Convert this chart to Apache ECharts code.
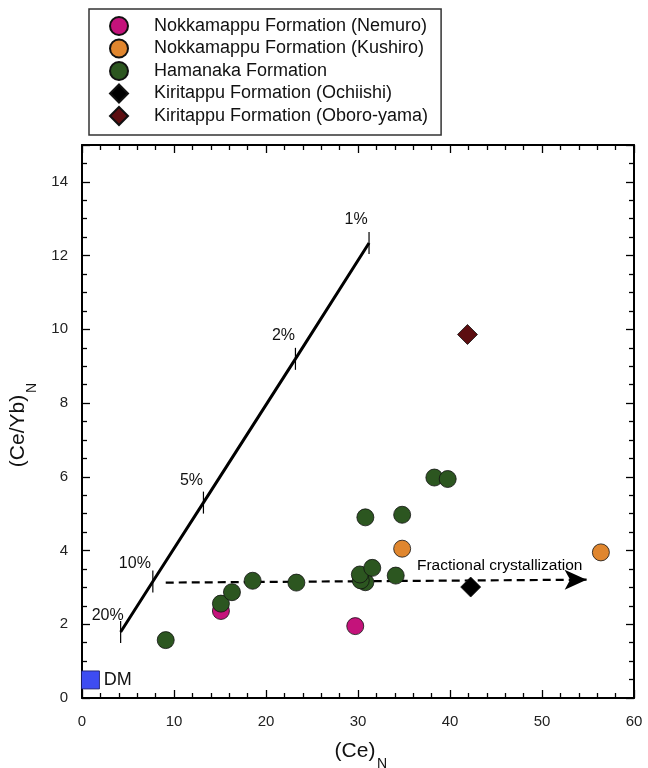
<!DOCTYPE html>
<html>
<head>
<meta charset="utf-8">
<script src="https://cdn.jsdelivr.net/npm/echarts@6/dist/echarts.min.js"></script>
<style>
html,body{margin:0;padding:0;background:#fff;}
#chart{width:648px;height:768px;}
</style>
</head>
<body>
<div id="chart"></div>
<script>
// ---- data ----
const seriesNames = [
  'Nokkamappu Formation (Nemuro)',
  'Nokkamappu Formation (Kushiro)',
  'Hamanaka Formation',
  'Kiritappu Formation (Ochiishi)',
  'Kiritappu Formation (Oboro-yama)'
];
const nemuro = [[15.1, 2.36], [29.7, 1.95]];
const kushiro = [[34.8, 4.05], [56.4, 3.95]];
const hamanaka = [
  [9.1, 1.57], [15.1, 2.56], [16.3, 2.87], [18.55, 3.18], [23.3, 3.13],
  [30.8, 3.14], [30.3, 3.19], [30.2, 3.35], [31.55, 3.53], [34.1, 3.32],
  [30.8, 4.9], [34.8, 4.97], [38.3, 5.98], [39.75, 5.94]
];
const ochiishi = [[42.25, 3.01]];
const oboro = [[41.9, 9.86]];
const dm = [[0.92, 0.49]];
const dmLabel = 'DM';
const meltPoints = [[4.2, 1.79], [7.7, 3.16], [13.2, 5.3], [23.2, 9.2], [31.2, 12.34]];
const meltLabels = ['20%', '10%', '5%', '2%', '1%'];
const fcStart = [9.1, 3.13];
const fcEnd = [54.85, 3.21];
const fcText = 'Fractional crystallization';
const fcTextPos = [45.4, 3.6];
const xTitle = ['(Ce)', 'N'];
const yTitle = ['(Ce/Yb)', 'N'];

// ---- styles ----
const FONT = 'Liberation Sans, Arial, Helvetica, sans-serif';
const colors = ['#C4137B', '#E0862E', '#2C5620', '#000000', '#5C0E10'];
const symbols = ['circle', 'circle', 'circle', 'diamond', 'diamond'];
const sizes = [17, 17, 17, 20, 20];
const datasets = [nemuro, kushiro, hamanaka, ochiishi, oboro];

const chart = echarts.init(document.getElementById('chart'), null, {renderer: 'canvas'});

const axisCommon = {
  min: 0,
  axisLine: {show: true, onZero: false, lineStyle: {color: '#000', width: 2}},
  axisTick: {show: true, inside: true, length: 8, lineStyle: {color: '#000', width: 1.3}},
  minorTick: {show: true, length: 5, lineStyle: {color: '#000', width: 1.3}},
  splitLine: {show: false},
  minorSplitLine: {show: false}
};

const scatterSeries = datasets.map((d, i) => ({
  name: seriesNames[i],
  type: 'scatter',
  data: d,
  symbol: symbols[i],
  symbolSize: sizes[i],
  itemStyle: {color: colors[i], borderColor: '#111', borderWidth: 0.8, opacity: 1},
  z: 5,
  emphasis: {disabled: true}
}));

const meltOffsets = [[-13, -16], [-18, -18], [-12, -22], [-12, -23], [-13, -23]];

const option = {
  animation: false,
  backgroundColor: '#fff',
  textStyle: {fontFamily: FONT},
  grid: {left: 82, right: 14, top: 145, bottom: 70, containLabel: false},
  legend: {
    data: seriesNames,
    orient: 'vertical',
    left: 89,
    top: 9,
    padding: [7, 13, 9, 20],
    itemGap: 2.5,
    itemWidth: 18,
    itemHeight: 18,
    borderColor: '#333',
    borderWidth: 1.5,
    backgroundColor: '#fff',
    selectedMode: false,
    textStyle: {fontFamily: FONT, fontSize: 18, color: '#111', lineHeight: 20, padding: [0, 0, 0, 21]}
  },
  xAxis: [
    Object.assign({}, axisCommon, {
      type: 'value', position: 'bottom', max: 60, interval: 10,
      minorTick: Object.assign({}, axisCommon.minorTick, {splitNumber: 5}),
      axisLabel: {show: true, margin: 16, fontSize: 15, color: '#222', fontFamily: FONT}
    }),
    Object.assign({}, axisCommon, {
      type: 'value', position: 'top', max: 60, interval: 10,
      minorTick: Object.assign({}, axisCommon.minorTick, {splitNumber: 5}),
      axisLabel: {show: false}
    })
  ],
  yAxis: [
    Object.assign({}, axisCommon, {
      type: 'value', position: 'left', max: 15, interval: 2,
      minorTick: Object.assign({}, axisCommon.minorTick, {splitNumber: 4}),
      axisLabel: {show: true, margin: 14, fontSize: 15, color: '#222', fontFamily: FONT,
        formatter: v => (v > 14 ? '' : v)}
    }),
    Object.assign({}, axisCommon, {
      type: 'value', position: 'right', max: 15, interval: 2,
      minorTick: Object.assign({}, axisCommon.minorTick, {splitNumber: 4}),
      axisLabel: {show: false}
    })
  ],
  series: [
    // melting line
    {
      type: 'line',
      data: meltPoints,
      symbol: 'rect',
      symbolSize: [1.2, 22],
      showSymbol: true,
      itemStyle: {color: '#000'},
      lineStyle: {color: '#000', width: 3},
      label: {
        show: true,
        position: 'inside',
        fontFamily: FONT,
        fontSize: 16,
        color: '#111',
        formatter: p => meltLabels[p.dataIndex]
      },
      labelLayout: p => ({dx: meltOffsets[p.dataIndex][0], dy: meltOffsets[p.dataIndex][1]}),
      z: 3,
      emphasis: {disabled: true}
    },
    // fractional crystallization arrow
    {
      type: 'line',
      data: [],
      markLine: {
        silent: true,
        animation: false,
        symbol: ['none', 'arrow'],
        symbolSize: [15, 22],
        lineStyle: {color: '#000', type: [8, 5], width: 2.2},
        label: {show: false},
        data: [[{coord: fcStart}, {coord: fcEnd}]]
      },
      z: 2
    },
    {
      type: 'scatter',
      data: [fcTextPos],
      symbolSize: 0,
      itemStyle: {opacity: 1},
      label: {show: true, position: 'inside', formatter: fcText, fontFamily: FONT, fontSize: 15.5, color: '#000', opacity: 1},
      emphasis: {disabled: true},
      z: 4
    },
    // DM
    {
      type: 'scatter',
      data: dm,
      symbol: 'rect',
      symbolSize: 18,
      itemStyle: {color: '#3E4CF2', borderColor: '#1a1a60', borderWidth: 0.8, opacity: 1},
      label: {show: true, position: 'right', distance: 4, formatter: dmLabel, fontFamily: FONT, fontSize: 18, color: '#111'},
      emphasis: {disabled: true},
      z: 4
    }
  ].concat(scatterSeries),
  graphic: [
    {type: 'text', x: 355, y: 751, style: {text: xTitle[0], font: '21px ' + FONT, fill: '#111', align: 'center', verticalAlign: 'middle'}},
    {type: 'text', x: 377, y: 764, style: {text: xTitle[1], font: '14px ' + FONT, fill: '#111', align: 'left', verticalAlign: 'middle'}},
    {type: 'text', x: 18, y: 431, rotation: Math.PI / 2, style: {text: yTitle[0], font: '21px ' + FONT, fill: '#111', align: 'center', verticalAlign: 'middle'}},
    {type: 'text', x: 32, y: 393, rotation: Math.PI / 2, style: {text: yTitle[1], font: '14px ' + FONT, fill: '#111', align: 'left', verticalAlign: 'middle'}}
  ]
};
chart.setOption(option);
</script>
</body>
</html>
